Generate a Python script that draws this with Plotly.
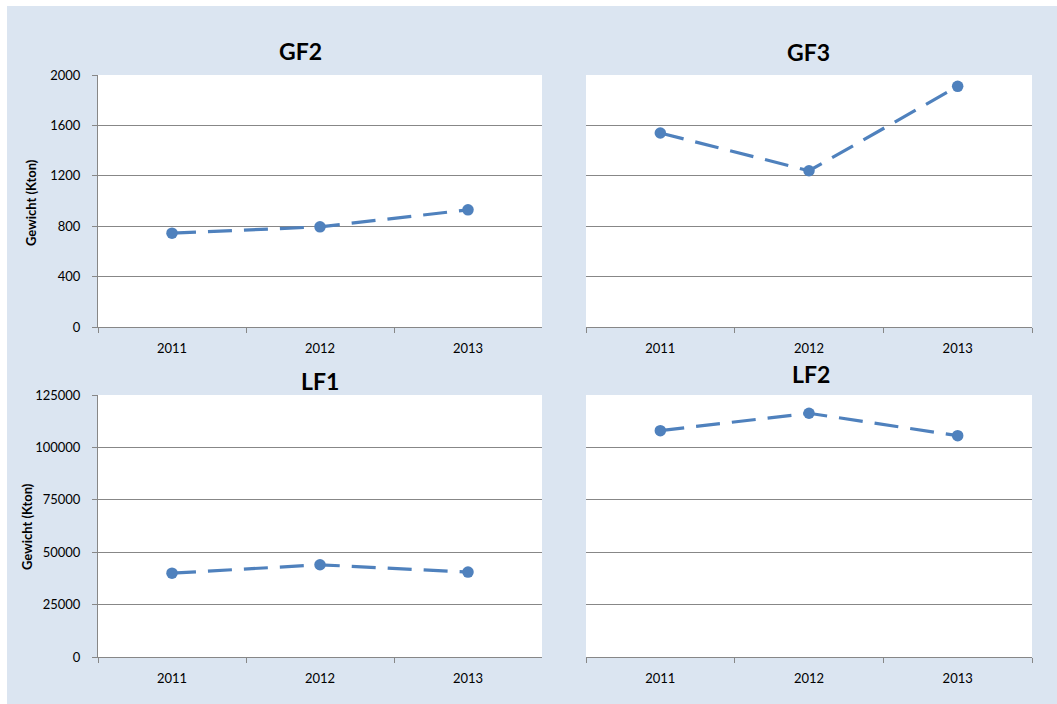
import plotly.graph_objects as go

# Jaren en gewichten (Kton) per afvalcategorie
years = ["2011", "2012", "2013"]
gf2 = [745, 795, 930]
gf3 = [1540, 1240, 1910]
lf1 = [40000, 44000, 40500]
lf2 = [108000, 116300, 105600]

panel_titles = ["GF2", "GF3", "LF1", "LF2"]
y_title = "Gewicht (Kton)"
gf_ticks = [0, 400, 800, 1200, 1600, 2000]
lf_ticks = [0, 25000, 50000, 75000, 100000, 125000]

W, H = 1057, 704
BG = "#DBE5F1"
LINE = "#4F81BD"
GRID = "#878787"
FONT = "Lato"


def px_x(p):
    return p / W


def px_y(p):
    return 1 - p / H


fig = go.Figure()

series = [gf2, gf3, lf1, lf2]
for i, vals in enumerate(series, start=1):
    sfx = "" if i == 1 else str(i)
    fig.add_trace(go.Scatter(
        x=years, y=vals, mode="lines+markers",
        xaxis="x" + sfx, yaxis="y" + sfx,
        line=dict(color=LINE, width=3.2, dash="24px,12px"),
        marker=dict(color=LINE, size=11.5),
        showlegend=False, hoverinfo="x+y",
    ))

left_dom = [px_x(98), px_x(542)]
right_dom = [px_x(586), px_x(1032)]
top_dom = [px_y(327), px_y(75)]
bot_dom = [px_y(657), px_y(395)]

xcommon = dict(
    type="category", range=[-0.5, 2.5], tickson="boundaries",
    showline=True, linecolor=GRID, linewidth=1,
    ticks="outside", ticklen=5, tickcolor=GRID, tickwidth=1,
    showgrid=False, zeroline=False, fixedrange=True,
    tickfont=dict(family=FONT, size=13, color="#000000"),
    ticklabelstandoff=9,
)


def ycommon(ticks, left):
    d = dict(
        range=[ticks[0], ticks[-1]], tickvals=ticks,
        ticktext=[str(t) for t in ticks],
        showgrid=True, gridcolor=GRID, gridwidth=1,
        zeroline=False, fixedrange=True,
        tickfont=dict(family=FONT, size=13, color="#000000"),
    )
    if left:
        d.update(showline=True, linecolor=GRID, linewidth=1,
                 ticks="outside", ticklen=5, tickcolor=GRID,
                 showticklabels=True, ticklabelstandoff=9)
    else:
        d.update(showline=False, ticks="", showticklabels=False)
    return d


fig.update_layout(
    width=W, height=H,
    margin=dict(l=0, r=0, t=0, b=0, pad=0, autoexpand=False),
    paper_bgcolor=BG, plot_bgcolor="#FFFFFF",
    xaxis=dict(domain=left_dom, anchor="y", **xcommon),
    yaxis=dict(domain=top_dom, anchor="x", **ycommon(gf_ticks, True)),
    xaxis2=dict(domain=right_dom, anchor="y2", **xcommon),
    yaxis2=dict(domain=top_dom, anchor="x2", **ycommon(gf_ticks, False)),
    xaxis3=dict(domain=left_dom, anchor="y3", **xcommon),
    yaxis3=dict(domain=bot_dom, anchor="x3", **ycommon(lf_ticks, True)),
    xaxis4=dict(domain=right_dom, anchor="y4", **xcommon),
    yaxis4=dict(domain=bot_dom, anchor="x4", **ycommon(lf_ticks, False)),
)

# white page margin above and left of the chart area
fig.add_shape(type="rect", xref="paper", yref="paper",
              x0=0, x1=1, y0=px_y(6), y1=1,
              fillcolor="#FFFFFF", line=dict(width=0), layer="above")
fig.add_shape(type="rect", xref="paper", yref="paper",
              x0=0, x1=px_x(7), y0=0, y1=1,
              fillcolor="#FFFFFF", line=dict(width=0), layer="above")

# panel titles
title_pos = [(300, 51), (808, 52), (320, 381), (811, 374)]
for t, (cx, cy) in zip(panel_titles, title_pos):
    fig.add_annotation(text="<b>%s</b>" % t, xref="paper", yref="paper",
                       x=px_x(cx), y=px_y(cy), xanchor="center", yanchor="middle",
                       showarrow=False,
                       font=dict(family=FONT, size=23, color="#000000"))

# y-axis titles
for cx, cy in [(31, 203), (27, 527)]:
    fig.add_annotation(text="<b>%s</b>" % y_title, xref="paper", yref="paper",
                       x=px_x(cx), y=px_y(cy), xanchor="center", yanchor="middle",
                       textangle=-90, showarrow=False,
                       font=dict(family=FONT, size=13, color="#000000"))

fig.write_html("out.html")
